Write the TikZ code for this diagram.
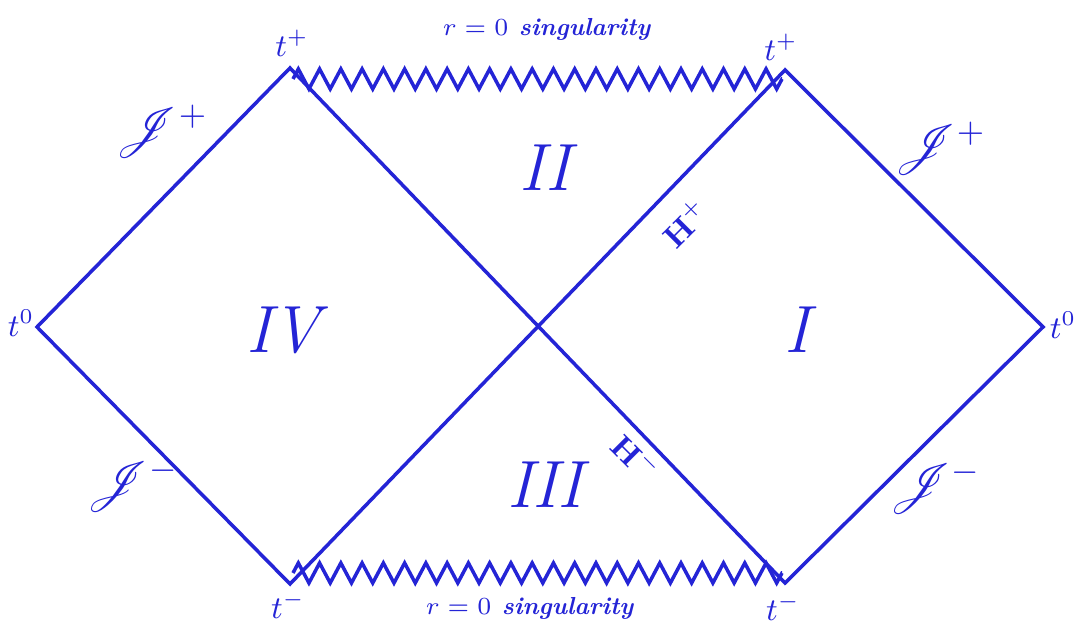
\documentclass[tikz,border=0pt]{standalone}
\usepackage{mathrsfs}
\usetikzlibrary{positioning, decorations.pathmorphing}
\definecolor{penroseBlue}{HTML}{2424D6}

\begin{document}
\begin{tikzpicture}[font=\small, every node/.style={text=penroseBlue},
    edge/.style={draw=penroseBlue, line width=1pt, line join=miter},
    sing/.style={edge, decorate, decoration={zigzag, segment length=0.2126cm, amplitude=0.1cm}},
    region/.style={font=\fontsize{19}{23}\selectfont\itshape},
    scri/.style={font=\Large}]
    \useasboundingbox (0,0) rectangle (10.78,6.33);

    % coins du diagramme
    \coordinate (leftZero)  at (0.37,3.06);
    \coordinate (leftPlus)  at (2.90,5.65);
    \coordinate (leftMinus) at (2.90,0.49);
    \coordinate (bifurc)    at (5.40,3.06);
    \coordinate (rightPlus) at (7.85,5.63);
    \coordinate (rightMinus) at (7.85,0.50);
    \coordinate (rightZero) at (10.43,3.06);

    % bords et horizons
    \draw[edge] (leftZero) -- (leftPlus) -- (rightMinus) -- (rightZero)
      -- (rightPlus) -- (leftMinus) -- cycle;

    % singularites
    \coordinate (topSingA) at (2.93,5.54);
    \coordinate (topSingB) at (7.82,5.54);
    \coordinate (botSingA) at (2.93,0.60);
    \coordinate (botSingB) at (7.82,0.60);
    \draw[sing] (topSingA) -- (topSingB);
    \draw[sing] (botSingA) -- (botSingB);

    \node[font=\scriptsize\bfseries] (topLabel) at (5.47,6.04) {$r = 0$ \textit{singularity}};
    \node[font=\scriptsize\bfseries] (botLabel) at (5.30,0.25) {$r = 0$ \textit{singularity}};

    \node (tPlusL)  at (2.92,5.90) {$t^{+}$};
    \node (tPlusR)  at (7.81,5.86) {$t^{+}$};
    \node (tMinusL) at (2.88,0.28) {$t^{-}$};
    \node (tMinusR) at (7.83,0.26) {$t^{-}$};
    \node (tZeroL)  at (0.21,3.10) {$t^{0}$};
    \node (tZeroR)  at (10.63,3.08) {$t^{0}$};

    \node[scri] (scriPlusL)  at (1.62,5.02) {$\mathscr{J}^{+}$};
    \node[scri] (scriMinusL) at (1.33,1.48) {$\mathscr{J}^{-}$};
    \node[scri] (scriPlusR)  at (9.40,4.85) {$\mathscr{J}^{+}$};
    \node[scri] (scriMinusR) at (9.35,1.46) {$\mathscr{J}^{-}$};

    \node[region] (regI)   at (7.97,3.03) {I};
    \node[region] (regII)  at (5.45,4.65) {II};
    \node[region] (regIII) at (5.45,1.48) {III};
    \node[region] (regIV)  at (2.83,3.03) {IV};

    \node[rotate=45, inner sep=0pt]  (horPlus)  at (6.85,4.10) {$\mathbf{H}^{+}$};
    \node[rotate=-45, inner sep=0pt] (horMinus) at (6.36,1.76) {$\mathbf{H}^{-}$};
  \end{tikzpicture}
\end{document}
